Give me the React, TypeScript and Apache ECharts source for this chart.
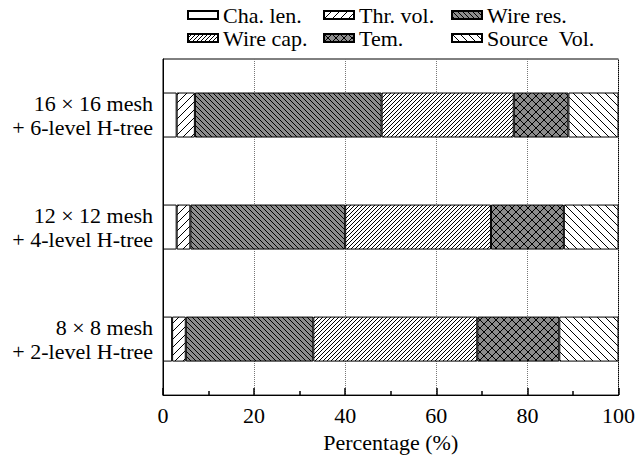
import React, { useEffect, useRef } from 'react';
import * as echarts from 'echarts';

const categories = [
  '8 × 8 mesh\n+ 2-level H-tree',
  '12 × 12 mesh\n+ 4-level H-tree',
  '16 × 16 mesh\n+ 6-level H-tree',
];
const seriesNames = ['Cha. len.', 'Thr. vol.', 'Wire res.', 'Wire cap.', 'Tem.', 'Source  Vol.'];
const chaLen = [2, 3, 3];
const thrVol = [3, 3, 4];
const wireRes = [28, 34, 41];
const wireCap = [36, 32, 29];
const tem = [18, 16, 12];
const sourceVol = [13, 12, 11];
const xMin = 0;
const xMax = 100;
const xInterval = 20;

const FONT = 'serif';

function hatch(bg: string, size: number, dirs: string[], lw = 1) {
  const c = document.createElement('canvas');
  c.width = size;
  c.height = size;
  const ctx = c.getContext('2d') as CanvasRenderingContext2D;
  ctx.fillStyle = bg;
  ctx.fillRect(0, 0, size, size);
  ctx.strokeStyle = '#000';
  ctx.lineWidth = lw;
  for (const d of dirs) {
    for (const k of [-size, 0, size]) {
      ctx.beginPath();
      if (d === '/') {
        ctx.moveTo(k, size);
        ctx.lineTo(k + size, 0);
      } else {
        ctx.moveTo(k, 0);
        ctx.lineTo(k + size, size);
      }
      ctx.stroke();
    }
  }
  return { image: c, repeat: 'repeat', imageWidth: size, imageHeight: size } as any;
}

export default function App() {
  const ref = useRef<HTMLDivElement>(null);
  useEffect(() => {
    if (!ref.current) return;
    const chart = echarts.init(ref.current, undefined, { renderer: 'svg' });
    const gray = '#8c8c8c';
    const fills = [
      '#ffffff',
      hatch('#ffffff', 8, ['/']),
      hatch(gray, 5, ['\\']),
      hatch('#ffffff', 4, ['/']),
      hatch(gray, 8, ['/', '\\']),
      hatch('#ffffff', 8, ['\\']),
    ];
    const dataSets = [chaLen, thrVol, wireRes, wireCap, tem, sourceVol];
    const legendPos = [
      { left: 187, top: 4 },
      { left: 323, top: 4 },
      { left: 451, top: 4 },
      { left: 187, top: 27 },
      { left: 323, top: 27 },
      { left: 451, top: 27 },
    ];
    chart.setOption({
      animation: false,
      textStyle: { fontFamily: FONT, fontSize: 22, color: '#000' },
      grid: {
        left: 163,
        right: 16,
        top: 59,
        bottom: 60,
        show: true,
        borderColor: '#000',
        borderWidth: 1,
        backgroundColor: 'transparent',
      },
      legend: seriesNames.map((n, i) => ({
        data: [n],
        left: legendPos[i].left,
        top: legendPos[i].top,
        padding: 0,
        itemWidth: 30,
        itemHeight: 8,
        icon: 'rect',
        selectedMode: false,
        textStyle: { fontFamily: FONT, fontSize: 22, color: '#000', lineHeight: 22 },
      })),
      xAxis: {
        type: 'value',
        min: xMin,
        max: xMax,
        interval: xInterval,
        name: 'Percentage (%)',
        nameLocation: 'middle',
        nameGap: 34,
        nameTextStyle: { fontFamily: FONT, fontSize: 22, color: '#000' },
        axisLine: { show: true, lineStyle: { color: '#000', width: 1 } },
        axisTick: { show: true, inside: true, length: 7, lineStyle: { color: '#000', width: 1.5 } },
        minorTick: { show: true, splitNumber: 2, length: 4, lineStyle: { color: '#000', width: 1.5 } },
        axisLabel: { fontFamily: FONT, fontSize: 22, color: '#000', margin: 9 },
        splitLine: { show: true, lineStyle: { color: '#777', type: 'dotted', width: 1 } },
      },
      yAxis: {
        type: 'category',
        data: categories,
        axisLine: { show: true, lineStyle: { color: '#000', width: 1 } },
        axisTick: { show: false },
        axisLabel: {
          fontFamily: FONT,
          fontSize: 22,
          color: '#000',
          margin: 10,
          lineHeight: 24,
          align: 'right',
        },
        splitLine: { show: false },
      },
      series: seriesNames.map((n, i) => ({
        name: n,
        type: 'bar',
        stack: 'total',
        barWidth: 45,
        data: dataSets[i],
        itemStyle: { color: fills[i], borderColor: '#000', borderWidth: 1 },
      })),
    });
    return () => chart.dispose();
  }, []);
  return <div ref={ref} style={{ width: 638, height: 458, position: 'absolute', left: 0, top: 0 }} />;
}
